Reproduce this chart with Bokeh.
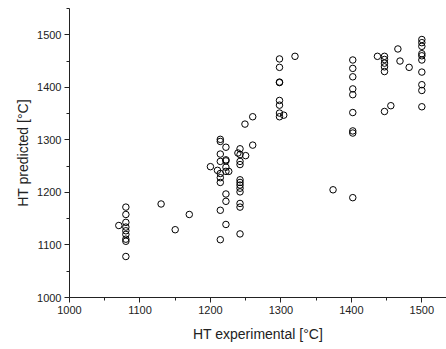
from bokeh.plotting import figure
from bokeh.models import FixedTicker, Range1d
from bokeh.embed import file_html
from bokeh.resources import INLINE

ht_experimental = (
    [1070]
    + [1080] * 9
    + [1130, 1150, 1170, 1200, 1210]
    + [1214] * 9
    + [1222] * 8
    + [1226, 1239]
    + [1242] * 12
    + [1249, 1250, 1260, 1260]
    + [1298] * 8
    + [1304, 1320, 1374]
    + [1402] * 9
    + [1437]
    + [1447] * 6
    + [1456, 1466, 1469, 1482]
    + [1500] * 10
)
ht_predicted = (
    [1137]
    + [1172, 1158, 1143, 1134, 1127, 1120, 1111, 1107, 1078]
    + [1178, 1129, 1158, 1249, 1242]
    + [1301, 1297, 1273, 1259, 1236, 1228, 1219, 1166, 1110]
    + [1286, 1262, 1260, 1248, 1240, 1197, 1183, 1139]
    + [1240, 1275]
    + [1283, 1272, 1259, 1253, 1224, 1219, 1214, 1208, 1201, 1179, 1172, 1121]
    + [1330, 1270, 1344, 1290]
    + [1454, 1438, 1410, 1409, 1375, 1366, 1351, 1344]
    + [1347, 1459, 1205]
    + [1452, 1436, 1420, 1397, 1386, 1352, 1317, 1313, 1190]
    + [1459]
    + [1459, 1453, 1446, 1439, 1430, 1354]
    + [1365, 1473, 1450, 1438]
    + [1491, 1485, 1478, 1464, 1460, 1452, 1429, 1405, 1394, 1363]
)
x_ticks = [1000, 1100, 1200, 1300, 1400, 1500]
x_minor = [1050, 1150, 1250, 1350, 1450]
y_ticks = [1000, 1100, 1200, 1300, 1400, 1500]
y_minor = [1050, 1150, 1250, 1350, 1450, 1550]

p = figure(width=446, height=349, output_backend="svg", toolbar_location=None,
           x_range=Range1d(1000, 1535), y_range=Range1d(1000, 1550),
           min_border_left=69, min_border_right=0, min_border_top=8, min_border_bottom=52)
p.outline_line_color = None
p.xgrid.visible = False
p.ygrid.visible = False
p.background_fill_color = "white"

p.scatter(ht_experimental, ht_predicted, marker="circle", size=6.5,
          fill_color=None, line_color="black", line_width=1)

font = "Liberation Sans"
for ax, ticks, minor in ((p.xaxis[0], x_ticks, x_minor), (p.yaxis[0], y_ticks, y_minor)):
    ax.ticker = FixedTicker(ticks=ticks, minor_ticks=minor)
    ax.axis_line_color = "#222222"
    ax.axis_line_width = 1
    ax.major_tick_line_color = "#222222"
    ax.minor_tick_line_color = "#222222"
    ax.major_tick_out = 5
    ax.major_tick_in = 0
    ax.minor_tick_out = 3
    ax.minor_tick_in = 0
    ax.major_label_text_font = font
    ax.major_label_text_font_size = "11px"
    ax.major_label_text_color = "#222222"
    ax.axis_label_text_font = font
    ax.axis_label_text_font_size = "14px"
    ax.axis_label_text_font_style = "normal"
    ax.axis_label_text_color = "#222222"

p.xaxis.axis_label = "HT experimental [°C]"
p.yaxis.axis_label = "HT predicted [°C]"
p.xaxis.major_label_standoff = 3
p.yaxis.major_label_standoff = 3
p.xaxis.axis_label_standoff = 9
p.yaxis.axis_label_standoff = 3
p.yaxis.major_label_orientation = "horizontal"

open("out.html", "w").write(file_html(p, INLINE))
